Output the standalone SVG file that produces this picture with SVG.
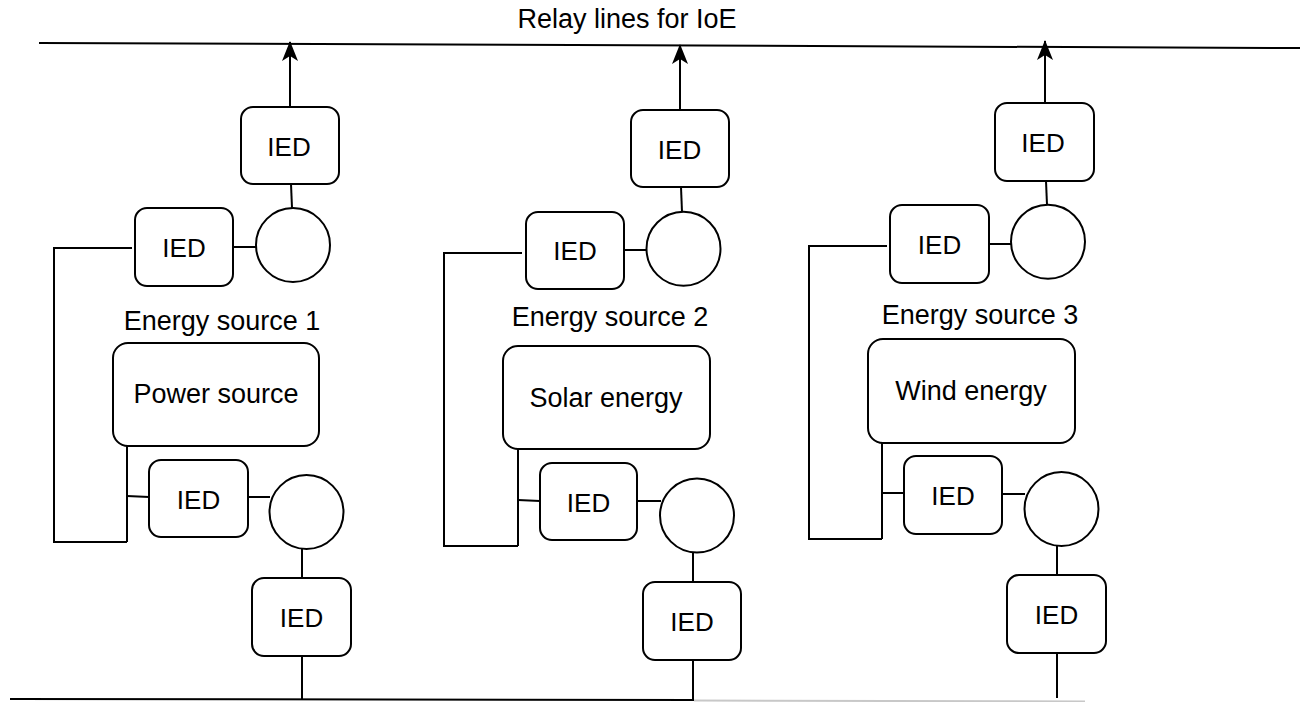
<svg xmlns="http://www.w3.org/2000/svg" width="1301" height="702" viewBox="0 0 1301 702">
<style>
.box{fill:#fff;stroke:#000;stroke-width:2}
.circ{fill:#fff;stroke:#000;stroke-width:2}
.ln{fill:none;stroke:#000;stroke-width:2}
.t{font-family:"Liberation Sans",Arial,sans-serif;font-size:27px;fill:#000;text-anchor:middle}
.ti{font-family:"Liberation Sans",Arial,sans-serif;font-size:26px;fill:#000;text-anchor:middle}
</style>
<defs>
<marker id="arr" markerUnits="userSpaceOnUse" markerWidth="20" markerHeight="18" viewBox="0 0 20 18" refX="19" refY="9" orient="auto">
<path d="M0,1 L20,9 L0,17 L5,9 Z" fill="#000"/>
</marker>
</defs>
<rect width="1301" height="702" fill="#fff"/>
<g id="bus-top">
<line class="ln" x1="39" y1="43" x2="1300" y2="48"/>
<text class="t" x="627" y="28">Relay lines for IoE</text>
</g>
<g id="bus-bottom">
<line class="ln" x1="10" y1="699" x2="694" y2="700"/>
<line x1="694" y1="700.5" x2="1085" y2="701.5" stroke="#c8c8c8" stroke-width="2"/>
</g>
<g id="connectors">
<line class="ln" x1="290" y1="107" x2="290" y2="42" marker-end="url(#arr)"/>
<line class="ln" x1="291" y1="184" x2="292" y2="208"/>
<line class="ln" x1="233" y1="247" x2="256" y2="247"/>
<polyline class="ln" points="132,248 54,248 54,542 127,542"/>
<line class="ln" x1="127" y1="446" x2="127" y2="542"/>
<line class="ln" x1="127" y1="496" x2="149" y2="497"/>
<line class="ln" x1="248" y1="497" x2="270" y2="497"/>
<line class="ln" x1="302" y1="549" x2="302" y2="578"/>
<line class="ln" x1="302" y1="656" x2="302" y2="699"/>

<line class="ln" x1="680" y1="110" x2="680" y2="45" marker-end="url(#arr)"/>
<line class="ln" x1="681" y1="187" x2="682" y2="212"/>
<line class="ln" x1="624" y1="250" x2="647" y2="250"/>
<polyline class="ln" points="522,253 444,253 444,546 518,546"/>
<line class="ln" x1="518" y1="449" x2="518" y2="546"/>
<line class="ln" x1="518" y1="500" x2="540" y2="501"/>
<line class="ln" x1="637" y1="501" x2="661" y2="501"/>
<line class="ln" x1="693" y1="553" x2="693" y2="582"/>
<line class="ln" x1="693" y1="660" x2="693" y2="700"/>

<line class="ln" x1="1045" y1="103" x2="1045" y2="41" marker-end="url(#arr)"/>
<line class="ln" x1="1046" y1="181" x2="1047" y2="205"/>
<line class="ln" x1="989" y1="244" x2="1011" y2="244"/>
<polyline class="ln" points="887,246 809,246 809,539 882,539"/>
<line class="ln" x1="882" y1="443" x2="882" y2="539"/>
<line class="ln" x1="882" y1="493" x2="904" y2="493"/>
<line class="ln" x1="1002" y1="494" x2="1025" y2="494"/>
<line class="ln" x1="1057" y1="546" x2="1057" y2="575"/>
<line class="ln" x1="1057" y1="653" x2="1057" y2="698"/>
</g>

<g id="s1-ied-top"><rect class="box" x="241" y="107" width="98" height="77" rx="12"/><text class="ti" x="289" y="156">IED</text></g>
<g id="s1-circle-top"><circle class="circ" cx="293" cy="245" r="37"/></g>
<g id="s1-ied-left"><rect class="box" x="135" y="208" width="98" height="78" rx="12"/><text class="ti" x="184" y="257">IED</text></g>
<g id="s1-label"><text class="t" x="222" y="330">Energy source 1</text></g>
<g id="s1-source"><rect class="box" x="113" y="343" width="206" height="103" rx="15"/><text class="t" x="216" y="403">Power source</text></g>
<g id="s1-ied-low"><rect class="box" x="149" y="460" width="99" height="77" rx="12"/><text class="ti" x="198.5" y="509">IED</text></g>
<g id="s1-circle-low"><circle class="circ" cx="306.5" cy="512" r="37"/></g>
<g id="s1-ied-bottom"><rect class="box" x="252" y="578" width="99" height="78" rx="12"/><text class="ti" x="301.5" y="627">IED</text></g>

<g id="s2-ied-top"><rect class="box" x="631" y="110" width="98" height="77" rx="12"/><text class="ti" x="679.5" y="159">IED</text></g>
<g id="s2-circle-top"><circle class="circ" cx="683.5" cy="248.7" r="37"/></g>
<g id="s2-ied-left"><rect class="box" x="526" y="212" width="98" height="77" rx="12"/><text class="ti" x="575" y="260">IED</text></g>
<g id="s2-label"><text class="t" x="610" y="326">Energy source 2</text></g>
<g id="s2-source"><rect class="box" x="503" y="346" width="207" height="103" rx="15"/><text class="t" x="606" y="407">Solar energy</text></g>
<g id="s2-ied-low"><rect class="box" x="540" y="463" width="97" height="77" rx="12"/><text class="ti" x="588.5" y="512">IED</text></g>
<g id="s2-circle-low"><circle class="circ" cx="697" cy="515.5" r="37"/></g>
<g id="s2-ied-bottom"><rect class="box" x="643" y="582" width="98" height="78" rx="12"/><text class="ti" x="692" y="631">IED</text></g>

<g id="s3-ied-top"><rect class="box" x="995" y="103" width="99" height="78" rx="12"/><text class="ti" x="1043" y="152">IED</text></g>
<g id="s3-circle-top"><circle class="circ" cx="1048" cy="241.7" r="37"/></g>
<g id="s3-ied-left"><rect class="box" x="890" y="205" width="99" height="78" rx="12"/><text class="ti" x="939.5" y="254">IED</text></g>
<g id="s3-label"><text class="t" x="980" y="324">Energy source 3</text></g>
<g id="s3-source"><rect class="box" x="868" y="339" width="207" height="104" rx="15"/><text class="t" x="971" y="400">Wind energy</text></g>
<g id="s3-ied-low"><rect class="box" x="904" y="456" width="98" height="78" rx="12"/><text class="ti" x="953" y="505">IED</text></g>
<g id="s3-circle-low"><circle class="circ" cx="1061.5" cy="509" r="37"/></g>
<g id="s3-ied-bottom"><rect class="box" x="1007" y="575" width="99" height="78" rx="12"/><text class="ti" x="1056.5" y="624">IED</text></g>
</svg>
